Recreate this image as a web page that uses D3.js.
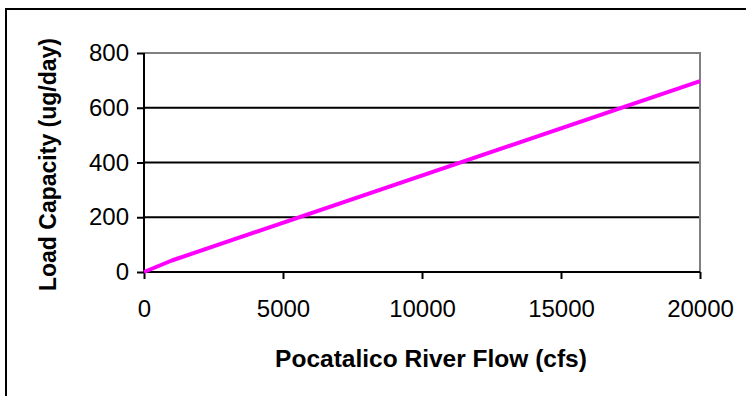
<!DOCTYPE html>
<html>
<head>
<meta charset="utf-8">
<script src="https://cdn.jsdelivr.net/npm/d3@7"></script>
<style>
  html, body { margin: 0; padding: 0; background: #fff; }
  svg { display: block; font-family: "Liberation Sans", Arial, sans-serif; }
</style>
</head>
<body>
<svg id="chart" width="746" height="396"></svg>
<script>
// Load capacity as a function of river flow
const flows = [0, 1000, 20000];
const loads = [0, 42, 697];
const xTicks = [0, 5000, 10000, 15000, 20000];
const yTicks = [0, 200, 400, 600, 800];
const xTitle = "Pocatalico River Flow (cfs)";
const yTitle = "Load Capacity (ug/day)";

const svg = d3.select("#chart");
const W = 746, H = 396;
const plot = { left: 144, right: 700, top: 53, bottom: 272 };
const tickFont = 24;

const x = d3.scaleLinear().domain([0, 20000]).range([plot.left, plot.right]);
const y = d3.scaleLinear().domain([0, 800]).range([plot.bottom, plot.top]);

// outer chart frame (right/bottom edges fall outside the canvas)
svg.append("rect")
  .attr("x", 6).attr("y", 9)
  .attr("width", W + 20).attr("height", H + 20)
  .attr("fill", "#fff").attr("stroke", "#000").attr("stroke-width", 2);

// horizontal gridlines
svg.append("g")
  .selectAll("line")
  .data(yTicks.filter(d => d > 0 && d < 800))
  .join("line")
  .attr("x1", plot.left).attr("x2", plot.right)
  .attr("y1", d => y(d)).attr("y2", d => y(d))
  .attr("stroke", "#000").attr("stroke-width", 2);

// plot-area border: top and right edges in grey
svg.append("path")
  .attr("d", `M${plot.left},${y(800)}H${plot.right}V${plot.bottom}`)
  .attr("fill", "none").attr("stroke", "#808080").attr("stroke-width", 2);

// y axis
const yAxis = svg.append("g")
  .attr("transform", `translate(${plot.left},0)`)
  .call(d3.axisLeft(y).tickValues(yTicks).tickSize(7).tickPadding(8).tickFormat(d3.format("d")));
yAxis.select(".domain").attr("stroke", "#000").attr("stroke-width", 2)
  .attr("d", `M0,${plot.top}V${plot.bottom}`);
yAxis.selectAll(".tick line").attr("stroke", "#000").attr("stroke-width", 2);
yAxis.selectAll(".tick text")
  .attr("font-family", "Liberation Sans, Arial, sans-serif")
  .attr("font-size", tickFont).attr("fill", "#000");

// x axis
const xAxis = svg.append("g")
  .attr("transform", `translate(0,${plot.bottom})`)
  .call(d3.axisBottom(x).tickValues(xTicks).tickSize(7).tickPadding(21).tickFormat(d3.format("d")));
xAxis.select(".domain").attr("stroke", "#000").attr("stroke-width", 2)
  .attr("d", `M${plot.left},0H${plot.right}`);
xAxis.selectAll(".tick line").attr("stroke", "#000").attr("stroke-width", 2);
xAxis.selectAll(".tick text")
  .attr("font-family", "Liberation Sans, Arial, sans-serif")
  .attr("font-size", tickFont).attr("fill", "#000");

// load capacity line
const line = d3.line().x((d, i) => x(flows[i])).y(d => y(d));
svg.append("path")
  .datum(loads)
  .attr("d", line)
  .attr("fill", "none")
  .attr("stroke", "#FF00FF")
  .attr("stroke-width", 4)
  .attr("stroke-linejoin", "round");

// axis titles
svg.append("text")
  .attr("x", 431).attr("y", 367)
  .attr("text-anchor", "middle")
  .attr("font-size", 24.5).attr("font-weight", "bold")
  .text(xTitle);

svg.append("text")
  .attr("transform", `translate(56,${(plot.top + plot.bottom) / 2 + 2}) rotate(-90)`)
  .attr("text-anchor", "middle")
  .attr("font-size", 23).attr("font-weight", "bold")
  .text(yTitle);
</script>
</body>
</html>
